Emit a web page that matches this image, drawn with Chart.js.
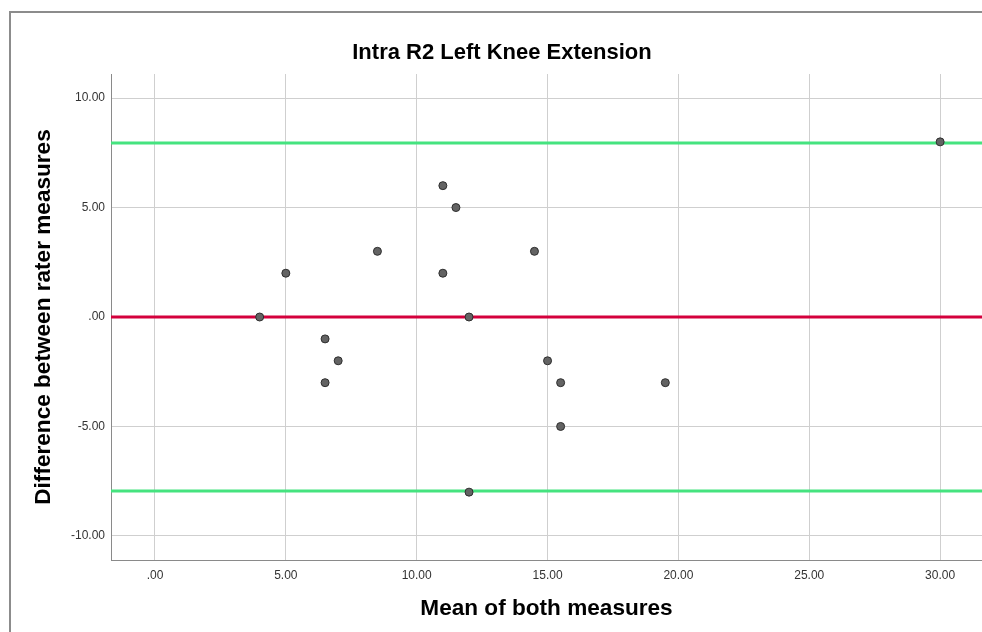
<!DOCTYPE html>
<html>
<head>
<meta charset="utf-8">
<script src="https://cdn.jsdelivr.net/npm/chart.js@4/dist/chart.umd.min.js"></script>
<style>
  html, body { margin: 0; padding: 0; background: #fff; overflow: hidden; }
  #wrap { width: 982px; height: 632px; }
</style>
</head>
<body>
<div id="wrap"><canvas id="chart" width="982" height="632"></canvas></div>
<script>
// Bland-Altman data: mean of the two measures vs. their difference
const meanValues = [4, 5, 6.5, 7, 6.5, 8.5, 11, 11.5, 11, 12, 14.5, 15, 15.5, 19.5, 15.5, 12, 30];
const diffValues = [0, 2, -1, -2, -3, 3, 6, 5, 2, 0, 3, -2, -3, -3, -5, -8, 8];

// Mean difference and limits of agreement
const meanDiff = 0;
const upperLimit = 7.95;
const lowerLimit = -7.95;

// Axis ranges and ticks
const xRange = [-1.68, 31.6];
const yRange = [-11.1, 11.1];
const xTickValues = [0, 5, 10, 15, 20, 25, 30];
const xTickLabels = ['.00', '5.00', '10.00', '15.00', '20.00', '25.00', '30.00'];
const yTickValues = [-10, -5, 0, 5, 10];
const yTickLabels = ['-10.00', '-5.00', '.00', '5.00', '10.00'];

const titleText = 'Intra R2 Left Knee Extension';
const xTitle = 'Mean of both measures';
const yTitle = 'Difference between rater measures';

const FONT = '"Liberation Sans", Arial, sans-serif';

const points = meanValues.map((m, i) => ({ x: m, y: diffValues[i] }));
const hLine = v => [{ x: xRange[0], y: v }, { x: xRange[1], y: v }];

// Outer frame and chart title
const framePlugin = {
  id: 'frame',
  beforeDraw(chart) {
    const ctx = chart.ctx;
    ctx.save();
    ctx.fillStyle = '#ffffff';
    ctx.fillRect(0, 0, chart.width, chart.height);
    ctx.strokeStyle = '#8c8c8c';
    ctx.lineWidth = 2;
    ctx.strokeRect(10, 12, 1200, 900);
    ctx.restore();
  },
  afterDraw(chart) {
    const ctx = chart.ctx;
    ctx.save();
    ctx.fillStyle = '#000';
    ctx.font = 'bold 22px ' + FONT;
    ctx.textAlign = 'center';
    ctx.textBaseline = 'middle';
    ctx.fillText(titleText, 502, 53);
    ctx.restore();
  }
};

new Chart(document.getElementById('chart'), {
  type: 'scatter',
  data: {
    datasets: [
      {
        label: 'Difference',
        data: points,
        pointRadius: 4,
        pointHoverRadius: 4,
        pointBackgroundColor: '#636363',
        pointBorderColor: '#2e2e2e',
        pointBorderWidth: 1
      },
      {
        type: 'line',
        label: 'Mean difference',
        data: hLine(meanDiff),
        borderColor: '#d4003c',
        borderWidth: 3,
        pointRadius: 0
      },
      {
        type: 'line',
        label: 'Upper limit',
        data: hLine(upperLimit),
        borderColor: '#45e37f',
        borderWidth: 3,
        pointRadius: 0
      },
      {
        type: 'line',
        label: 'Lower limit',
        data: hLine(lowerLimit),
        borderColor: '#45e37f',
        borderWidth: 3,
        pointRadius: 0
      }
    ]
  },
  options: {
    responsive: false,
    animation: false,
    layout: { autoPadding: false, padding: { top: 74, right: 0, bottom: 0, left: 0 } },
    plugins: {
      legend: { display: false },
      tooltip: { enabled: false },
      title: { display: false }
    },
    scales: {
      x: {
        type: 'linear',
        min: xRange[0],
        max: xRange[1],
        afterBuildTicks: s => { s.ticks = xTickValues.map(v => ({ value: v })); },
        afterFit: s => { s.height = 72; s.paddingLeft = 0; s.paddingRight = 0; },
        ticks: {
          padding: 8,
          color: '#333',
          font: { family: FONT, size: 12 },
          callback: v => xTickLabels[xTickValues.indexOf(v)]
        },
        grid: { color: '#cfcfcf', lineWidth: 1, drawTicks: false },
        border: { color: '#8a8a8a', width: 1 },
        title: {
          display: true,
          text: xTitle,
          color: '#000',
          font: { family: FONT, size: 22.6, weight: 'bold' },
          padding: { top: 0, bottom: 10 }
        }
      },
      y: {
        type: 'linear',
        min: yRange[0],
        max: yRange[1],
        afterBuildTicks: s => { s.ticks = yTickValues.map(v => ({ value: v })); },
        afterFit: s => { s.width = 111; s.paddingTop = 0; s.paddingBottom = 0; },
        ticks: {
          padding: 6,
          color: '#333',
          font: { family: FONT, size: 12 },
          callback: v => yTickLabels[yTickValues.indexOf(v)]
        },
        grid: { color: '#cfcfcf', lineWidth: 1, drawTicks: false },
        border: { color: '#8a8a8a', width: 1 },
        title: {
          display: true,
          text: yTitle,
          color: '#000',
          font: { family: FONT, size: 22.6, weight: 'bold' },
          padding: { top: 30, bottom: 0 }
        }
      }
    }
  },
  plugins: [framePlugin]
});
</script>
</body>
</html>
